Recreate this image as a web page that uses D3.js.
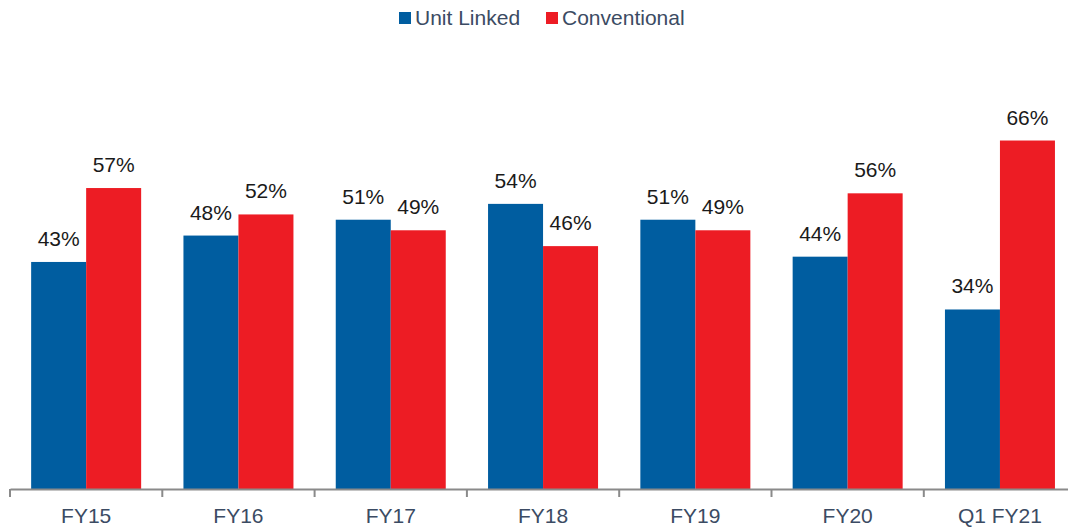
<!DOCTYPE html>
<html>
<head>
<meta charset="utf-8">
<script src="https://cdn.jsdelivr.net/npm/d3@7"></script>
<style>
  body { margin: 0; background: #fff; }
  text { font-family: "Liberation Sans", Arial, sans-serif; }
</style>
</head>
<body>
<svg id="chart" width="1068" height="528"></svg>
<script>
// data
const categories = ['FY15', 'FY16', 'FY17', 'FY18', 'FY19', 'FY20', 'Q1 FY21'];
const unitLinked = [43, 48, 51, 54, 51, 44, 34];
const conventional = [57, 52, 49, 46, 49, 56, 66];
const seriesNames = ['Unit Linked', 'Conventional'];

const svg = d3.select('#chart');
const colors = ['#005DA0', '#ED1C24'];
const textColor = '#3B4B63';

const baseY = 489;
const bandStep = 152.3;

const rows = categories.map((c, i) => ({ cat: c, values: [unitLinked[i], conventional[i]] }));

const xScale = d3.scaleBand()
    .domain(categories)
    .range([10, 10 + bandStep * categories.length])
    .paddingInner(0)
    .paddingOuter(0);

const xInner = d3.scaleBand()
    .domain(seriesNames)
    .range([0, 110])
    .padding(0);

const yScale = d3.scaleLinear()
    .domain([0, 100])
    .range([baseY, baseY - 528]);

// bars
const groups = svg.selectAll('g.grp')
    .data(rows)
    .enter()
    .append('g')
    .attr('class', 'grp')
    .attr('transform', d => 'translate(' + (xScale(d.cat) + xScale.bandwidth() / 2 - 55) + ',0)');

groups.selectAll('rect')
    .data(d => d.values.map((v, k) => ({ name: seriesNames[k], v: v, k: k })))
    .enter()
    .append('rect')
    .attr('x', d => xInner(d.name))
    .attr('width', xInner.bandwidth())
    .attr('y', d => yScale(d.v))
    .attr('height', d => baseY - yScale(d.v))
    .attr('fill', d => colors[d.k]);

groups.selectAll('text.val')
    .data(d => d.values.map((v, k) => ({ name: seriesNames[k], v: v, k: k })))
    .enter()
    .append('text')
    .attr('class', 'val')
    .attr('x', d => xInner(d.name) + xInner.bandwidth() / 2)
    .attr('y', d => yScale(d.v) - 16)
    .attr('text-anchor', 'middle')
    .style('font-size', '21px')
    .attr('fill', '#1a1a1a')
    .text(d => d.v + '%');

// x axis
const axis = svg.append('g')
    .attr('transform', 'translate(0,' + baseY + ')')
    .call(d3.axisBottom(xScale).tickSize(0).tickSizeOuter(0));
axis.select('.domain').attr('stroke', '#8a8a8a').attr('stroke-width', 2);
axis.selectAll('.tick text')
    .attr('y', 34)
    .attr('dy', 0)
    .style('font-size', '21px')
    .attr('fill', textColor);

// category separators
const sepData = d3.range(categories.length + 1).map(i => 10 + i * bandStep);
axis.selectAll('line.sep')
    .data(sepData)
    .enter()
    .append('line')
    .attr('class', 'sep')
    .attr('x1', d => d).attr('x2', d => d)
    .attr('y1', 0).attr('y2', 8)
    .attr('stroke', '#8a8a8a')
    .attr('stroke-width', 2);

// legend
const legend = svg.append('g');
const legendX = [399, 546];
seriesNames.forEach((n, i) => {
  legend.append('rect')
      .attr('x', legendX[i]).attr('y', 12)
      .attr('width', 12).attr('height', 12)
      .attr('fill', colors[i]);
  legend.append('text')
      .attr('x', legendX[i] + 16).attr('y', 25)
      .style('font-size', '21px')
      .attr('fill', textColor)
      .text(n);
});
</script>
</body>
</html>
